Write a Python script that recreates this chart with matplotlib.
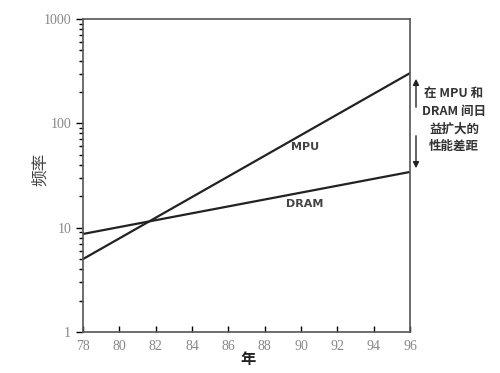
import matplotlib.pyplot as plt
from matplotlib.ticker import LogLocator, NullFormatter, FixedLocator

plt.rcParams['font.family'] = ['Noto Sans CJK SC', 'DejaVu Sans']

years = [78, 96]
mpu = [5.0, 303]
dram = [8.7, 34.2]
xticks = [78, 80, 82, 84, 86, 88, 90, 92, 94, 96]
yticks = [1, 10, 100, 1000]

fig = plt.figure(figsize=(5, 3.73), dpi=100)
ax = fig.add_axes([0.166, 0.11, 0.654, 0.839])

ax.plot(years, mpu, c='#222222', lw=1.6)
ax.plot(years, dram, c='#222222', lw=1.6)
ax.set_yscale('log')
ax.set_xlim(78, 96)
ax.set_ylim(1, 1000)

ax.xaxis.set_major_locator(FixedLocator(xticks))
ax.set_xticklabels([str(t) for t in xticks])
ax.yaxis.set_major_locator(FixedLocator(yticks))
ax.set_yticklabels([str(t) for t in yticks])
ax.yaxis.set_minor_locator(LogLocator(base=10, subs=range(2, 10)))
ax.yaxis.set_minor_formatter(NullFormatter())

for lab in ax.get_xticklabels() + ax.get_yticklabels():
    lab.set_family('Liberation Serif')
    lab.set_color('#888888')
    lab.set_fontsize(10)
ax.tick_params(axis='x', direction='in', length=4, width=1, pad=6)
ax.tick_params(axis='y', which='major', direction='out', length=5, width=1)
ax.tick_params(axis='y', which='minor', direction='out', length=3, width=1)
for s in ax.spines.values():
    s.set_color('#555555')
    s.set_linewidth(1.2)

ax.text(90.2, 59, 'MPU', fontsize=8, fontweight='bold', color='#444444',
        ha='center', va='center', family='DejaVu Sans')
ax.text(90.2, 17, 'DRAM', fontsize=8, fontweight='bold', color='#444444',
        ha='center', va='center', family='DejaVu Sans')

ax.set_ylabel('频率', fontsize=12, color='#444444')
ax.yaxis.set_label_coords(-0.105, 0.518)
ax.set_xlabel('年', fontsize=11, color='#222222', fontweight='bold')
ax.xaxis.set_label_coords(0.505, -0.06)

# gap annotation
ax.annotate('', xy=(416 / 500, 1 - 76 / 373), xytext=(416 / 500, 1 - 110 / 373),
            xycoords='figure fraction', textcoords='figure fraction',
            arrowprops=dict(arrowstyle='-|>', color='#222222', lw=1, mutation_scale=9))
ax.annotate('', xy=(416 / 500, 1 - 171 / 373), xytext=(416 / 500, 1 - 133 / 373),
            xycoords='figure fraction', textcoords='figure fraction',
            arrowprops=dict(arrowstyle='-|>', color='#222222', lw=1, mutation_scale=9))
fig.text(454 / 500, 1 - 120 / 373, '在 MPU 和\nDRAM 间日\n益扩大的\n性能差距',
         ha='center', va='center', fontsize=9, fontweight='bold', color='#333333',
         linespacing=1.45)

fig.savefig('out.png', dpi=100)
